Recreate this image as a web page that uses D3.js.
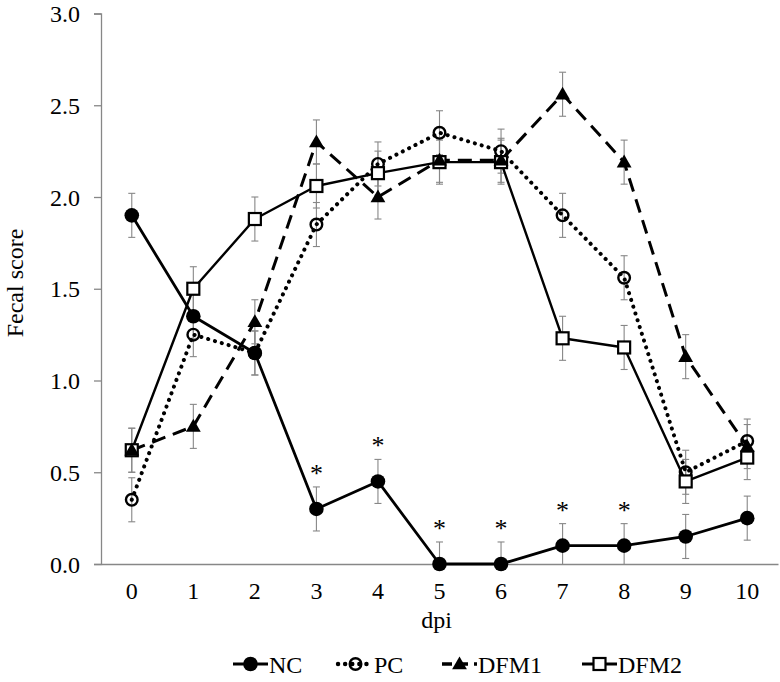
<!DOCTYPE html>
<html><head><meta charset="utf-8">
<script src="https://cdn.jsdelivr.net/npm/d3@7/dist/d3.min.js"></script>
<style>body{margin:0;background:#fff}svg{display:block}text{font-family:"Liberation Serif","Times New Roman",serif;fill:#000}</style>
</head><body><svg id="c" width="780" height="682"></svg>
<script>
const days = ["0","1","2","3","4","5","6","7","8","9","10"];
const NC   = [1.90,1.35,1.15,0.30,0.45,0.00,0.00,0.10,0.10,0.15,0.25];
const PC   = [0.35,1.25,1.15,1.85,2.18,2.35,2.25,1.90,1.56,0.50,0.67];
const DFM1 = [0.62,0.75,1.32,2.30,2.00,2.20,2.20,2.56,2.19,1.13,0.64];
const DFM2 = [0.62,1.50,1.88,2.06,2.13,2.19,2.19,1.23,1.18,0.45,0.58];
const errNC   = [0.12,0.12,0.12,0.12,0.12,0.12,0.12,0.12,0.12,0.12,0.12];
const errPC   = [0.12,0.12,0.12,0.12,0.12,0.12,0.12,0.12,0.12,0.12,0.12];
const errDFM1 = [0.12,0.12,0.12,0.12,0.12,0.12,0.12,0.12,0.12,0.12,0.12];
const errDFM2 = [0.12,0.12,0.12,0.12,0.12,0.12,0.12,0.12,0.12,0.12,0.12];
const sigDays = ["3","4","5","6","7","8"];
const yTicks = [0,0.5,1.0,1.5,2.0,2.5,3.0];
const seriesNames = ["NC","PC","DFM1","DFM2"];

const svg = d3.select("#c");
const L=101, R=778, T=13.5, B=564;
const x = d3.scaleBand().domain(days).range([L,R]).padding(0);
const cx = d => x(d) + x.bandwidth()/2;
const y = d3.scaleLinear().domain([0,3]).range([B,T]);
const grey = "#878787";
const FS = "24px";

// axes
const ya = svg.append("g").attr("transform",`translate(${L},0)`)
  .call(d3.axisLeft(y).tickValues(yTicks).tickFormat(d3.format(".1f")).tickSizeOuter(0).tickSize(7).tickPadding(14));
ya.select(".domain").attr("stroke",grey).attr("stroke-width",1.3);
ya.selectAll(".tick line").attr("stroke",grey).attr("stroke-width",1.3);
ya.selectAll(".tick text").style("font-size",FS).style("font-family","Liberation Serif").attr("dy","0.34em");

const xa = svg.append("g").attr("transform",`translate(0,${B})`)
  .call(d3.axisBottom(x).tickSize(0).tickSizeOuter(0).tickPadding(18));
xa.select(".domain").attr("stroke",grey).attr("stroke-width",1.3);
xa.selectAll(".tick text").style("font-size",FS).style("font-family","Liberation Serif").attr("dy","0.71em");

svg.append("text").attr("x",(L+R)/2-3).attr("y",628).attr("text-anchor","middle").style("font-size",FS).text("dpi");
svg.append("text").attr("transform","translate(23,283) rotate(-90)").attr("text-anchor","middle").style("font-size",FS).text("Fecal score");

const series = [
  {name:"NC", v:NC, e:errNC, dash:null, w:2.8, cap:"butt", marker:"fcircle"},
  {name:"PC", v:PC, e:errPC, dash:"0.1,7", w:4, cap:"round", marker:"ocircle"},
  {name:"DFM1", v:DFM1, e:errDFM1, dash:"14,8", w:3, cap:"butt", marker:"tri"},
  {name:"DFM2", v:DFM2, e:errDFM2, dash:null, w:2.4, cap:"butt", marker:"square"}
];

// error bars
const eg = svg.append("g").attr("stroke",grey).attr("stroke-width",1.1);
series.forEach(s=>{
  days.forEach((d,i)=>{
    const x0=cx(d), y1=y(s.v[i]+s.e[i]);
    const ylo = y(s.v[i]-s.e[i]);
    eg.append("line").attr("x1",x0).attr("x2",x0).attr("y1",y1).attr("y2",Math.min(ylo,B));
    eg.append("line").attr("x1",x0-3.5).attr("x2",x0+3.5).attr("y1",y1).attr("y2",y1);
    if (s.v[i]-s.e[i] >= 0) eg.append("line").attr("x1",x0-3.5).attr("x2",x0+3.5).attr("y1",ylo).attr("y2",ylo);
  });
});

// lines
const line = d3.line().x((v,i)=>cx(days[i])).y(v=>y(v));
series.forEach(s=>{
  svg.append("path").datum(s.v).attr("d",line).attr("fill","none").attr("stroke","#000")
    .attr("stroke-width",s.w).attr("stroke-dasharray",s.dash).attr("stroke-linecap",s.cap).attr("stroke-linejoin","round");
});

function drawMarker(g, type, px, py){
  if(type==="fcircle") g.append("circle").attr("cx",px).attr("cy",py).attr("r",7.3).attr("fill","#000");
  if(type==="ocircle") g.append("circle").attr("cx",px).attr("cy",py).attr("r",5.8).attr("fill","none").attr("stroke","#000").attr("stroke-width",2.4);
  if(type==="tri") g.append("path").attr("d",d3.symbol(d3.symbolTriangle,95)()).attr("transform",`translate(${px},${py+1})`).attr("fill","#000");
  if(type==="square") g.append("rect").attr("x",px-6).attr("y",py-6).attr("width",12).attr("height",12).attr("fill","#fff").attr("stroke","#000").attr("stroke-width",2.2);
}
const mg = svg.append("g");
[0,1,3,2].forEach(k=>{
  const s=series[k];
  days.forEach((d,i)=>drawMarker(mg,s.marker,cx(d),y(s.v[i])));
});

// significance asterisks
sigDays.forEach(d=>{
  const i=days.indexOf(d);
  svg.append("text").attr("x",cx(d)).attr("y",y(NC[i])-27).attr("text-anchor","middle").style("font-size","26px").text("*");
});

// legend
const legX = [233,338,442,582];
const lg = svg.append("g");
series.forEach((s,k)=>{
  const x0=legX[k], x1=x0+35, ly=664;
  lg.append("line").attr("x1",x0).attr("x2",x1).attr("y1",ly).attr("y2",ly).attr("stroke","#000")
    .attr("stroke-width",s.w+0.4).attr("stroke-dasharray",s.dash? (s.name==="PC"?"0.1,7":"10,6"):null).attr("stroke-linecap",s.cap);
  drawMarker(lg,s.marker,x0+17.5,ly);
  lg.append("text").attr("x",x1+1).attr("y",673).style("font-size",FS).text(s.name);
});
</script></body></html>
